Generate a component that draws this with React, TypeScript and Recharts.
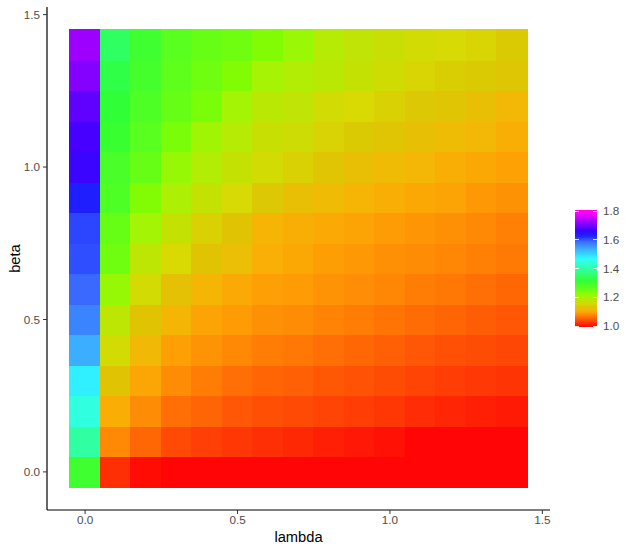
import React from "react";
import {
  ScatterChart,
  Scatter,
  XAxis,
  YAxis,
  ReferenceArea,
  Label,
} from "recharts";

// grid of lambda x beta, each cell is a tile
const lambdas = [0, 0.1, 0.2, 0.3, 0.4, 0.5, 0.6, 0.7, 0.8, 0.9, 1.0, 1.1, 1.2, 1.3, 1.4];
const betas = [0, 0.1, 0.2, 0.3, 0.4, 0.5, 0.6, 0.7, 0.8, 0.9, 1.0, 1.1, 1.2, 1.3, 1.4];

// one row per beta (bottom row first), one value per lambda
const valueRows = [
  [1.300, 1.026, 1.005, 1.000, 1.000, 1.000, 1.000, 1.000, 1.000, 1.000, 1.000, 1.000, 1.000, 1.000, 1.000],
  [1.397, 1.082, 1.061, 1.043, 1.036, 1.031, 1.026, 1.022, 1.016, 1.012, 1.008, 1.000, 1.000, 1.000, 1.000],
  [1.444, 1.107, 1.084, 1.066, 1.059, 1.051, 1.046, 1.043, 1.039, 1.035, 1.031, 1.024, 1.020, 1.016, 1.013],
  [1.479, 1.136, 1.102, 1.084, 1.074, 1.066, 1.059, 1.056, 1.052, 1.048, 1.044, 1.039, 1.035, 1.032, 1.029],
  [1.532, 1.162, 1.119, 1.097, 1.089, 1.082, 1.075, 1.071, 1.066, 1.061, 1.056, 1.051, 1.047, 1.044, 1.041],
  [1.565, 1.184, 1.136, 1.114, 1.100, 1.094, 1.087, 1.084, 1.079, 1.074, 1.069, 1.064, 1.059, 1.055, 1.051],
  [1.586, 1.218, 1.162, 1.131, 1.114, 1.105, 1.097, 1.094, 1.089, 1.085, 1.081, 1.075, 1.071, 1.066, 1.061],
  [1.600, 1.249, 1.184, 1.156, 1.136, 1.126, 1.109, 1.103, 1.096, 1.092, 1.087, 1.084, 1.081, 1.077, 1.072],
  [1.604, 1.258, 1.209, 1.176, 1.150, 1.136, 1.113, 1.108, 1.104, 1.100, 1.095, 1.090, 1.087, 1.082, 1.077],
  [1.623, 1.283, 1.233, 1.200, 1.176, 1.158, 1.141, 1.127, 1.121, 1.113, 1.108, 1.103, 1.100, 1.093, 1.088],
  [1.657, 1.288, 1.258, 1.218, 1.196, 1.176, 1.162, 1.150, 1.137, 1.127, 1.121, 1.116, 1.108, 1.103, 1.098],
  [1.667, 1.306, 1.272, 1.239, 1.211, 1.192, 1.172, 1.167, 1.151, 1.144, 1.137, 1.129, 1.122, 1.117, 1.108],
  [1.682, 1.317, 1.283, 1.258, 1.239, 1.209, 1.188, 1.181, 1.163, 1.156, 1.150, 1.142, 1.137, 1.127, 1.117],
  [1.704, 1.329, 1.294, 1.265, 1.249, 1.233, 1.206, 1.196, 1.187, 1.176, 1.165, 1.152, 1.148, 1.144, 1.138],
  [1.720, 1.348, 1.300, 1.272, 1.258, 1.249, 1.233, 1.216, 1.192, 1.181, 1.171, 1.162, 1.158, 1.153, 1.144],
];

const xTicks = [0, 0.5, 1, 1.5];
const yTicks = [0, 0.5, 1, 1.5];
const legendBreaks = [1.0, 1.2, 1.4, 1.6, 1.8];
const fillMin = 1.0;
const fillMax = 1.8;

const cells = betas.flatMap((beta, i) =>
  lambdas.map((lambda, j) => ({ lambda, beta, value: valueRows[i][j] }))
);

function hsvToHex(h: number, s: number, v: number) {
  const c = v * s;
  const hp = (h % 360) / 60;
  const x = c * (1 - Math.abs((hp % 2) - 1));
  let r = 0, g = 0, b = 0;
  if (hp < 1) [r, g, b] = [c, x, 0];
  else if (hp < 2) [r, g, b] = [x, c, 0];
  else if (hp < 3) [r, g, b] = [0, c, x];
  else if (hp < 4) [r, g, b] = [0, x, c];
  else if (hp < 5) [r, g, b] = [x, 0, c];
  else [r, g, b] = [c, 0, x];
  const m = v - c;
  const hex = (n: number) =>
    Math.round((n + m) * 255).toString(16).padStart(2, "0");
  return "#" + hex(r) + hex(g) + hex(b);
}

// rainbow fill, red at 1.0 round to magenta at 1.8
function fillFor(value: number) {
  const t = Math.min(Math.max((value - fillMin) / (fillMax - fillMin), 0), 1);
  const h = t * 308;
  let s = 1;
  if (h < 90) s = 0.98;
  else if (h < 115) s = 0.98 - ((h - 90) / 25) * 0.17;
  else if (h < 200) s = 0.81;
  else if (h < 225) s = 0.77;
  else if (h < 255) s = 0.77 + ((h - 225) / 30) * 0.23;
  const sd = h < 58 ? 12 : 20;
  const v = 1 - 0.15 * Math.exp(-(((h - 58) / sd) ** 2));
  return hsvToHex(h, s, v);
}

const fmt = (v: number) => v.toFixed(1);

const BetaTitle = (props: any) => {
  const vb = props.viewBox;
  const x = vb.x + 5;
  const y = vb.y + vb.height / 2;
  return (
    <text
      x={x}
      y={y}
      transform={`rotate(-90, ${x}, ${y})`}
      textAnchor="middle"
      dominantBaseline="central"
      fontSize={14.7}
      fill="#000"
    >
      beta
    </text>
  );
};

const BAR_TOP = 210;
const BAR_H = 117;

function ColourBar() {
  const stops = [];
  for (let k = 0; k <= 40; k++) {
    const v = fillMin + ((fillMax - fillMin) * k) / 40;
    stops.push(`${fillFor(v)} ${(k / 40) * 100}%`);
  }
  const yOf = (v: number) =>
    BAR_TOP + 1 + ((fillMax - v) / (fillMax - fillMin)) * (BAR_H - 2);
  return (
    <>
      <div
        style={{
          position: "absolute",
          left: 575,
          top: BAR_TOP,
          width: 22,
          height: BAR_H,
          background: `linear-gradient(to top, ${stops.join(", ")})`,
        }}
      />
      {legendBreaks.map((b) => (
        <React.Fragment key={b}>
          <div
            style={{
              position: "absolute",
              left: 575,
              top: yOf(b) - 0.5,
              width: 4,
              height: 1,
              background: "rgba(255,255,255,0.85)",
            }}
          />
          <div
            style={{
              position: "absolute",
              left: 593,
              top: yOf(b) - 0.5,
              width: 4,
              height: 1,
              background: "rgba(255,255,255,0.85)",
            }}
          />
          <span
            style={{
              position: "absolute",
              left: 603,
              top: yOf(b) - 7,
              fontSize: 11.7,
              lineHeight: "14px",
              color: "#4d4d4d",
            }}
          >
            {fmt(b)}
          </span>
        </React.Fragment>
      ))}
    </>
  );
}

export default function App() {
  return (
    <div
      style={{
        position: "absolute",
        left: 0,
        top: 0,
        width: 635,
        height: 552,
        background: "#fff",
        fontFamily: "'Liberation Sans', Arial, Helvetica, sans-serif",
      }}
    >
      <ScatterChart
        width={635}
        height={552}
        margin={{ top: 7, right: 85, left: 10, bottom: 10 }}
      >
        <XAxis
          type="number"
          dataKey="lambda"
          domain={[-0.125, 1.525]}
          ticks={xTicks}
          tickFormatter={fmt}
          allowDataOverflow
          height={32}
          axisLine={{ stroke: "#000", strokeWidth: 1.2 }}
          tickLine={{ stroke: "#333" }}
          tickSize={4}
          tickMargin={2}
          tick={{ fill: "#4d4d4d", stroke: "none", fontSize: 11.7 }}
        >
          <Label value="lambda" position="insideBottom" offset={0} fontSize={14.7} fill="#000" />
        </XAxis>
        <YAxis
          type="number"
          dataKey="beta"
          domain={[-0.125, 1.525]}
          ticks={yTicks}
          tickFormatter={fmt}
          allowDataOverflow
          width={37}
          axisLine={{ stroke: "#000", strokeWidth: 1.2 }}
          tickLine={{ stroke: "#333" }}
          tickSize={4}
          tickMargin={3}
          tick={{ fill: "#4d4d4d", stroke: "none", fontSize: 11.7 }}
        >
          <Label content={<BetaTitle />} />
        </YAxis>
        {cells.map((c) => {
          const col = fillFor(c.value);
          return (
            <ReferenceArea
              key={`${c.lambda}-${c.beta}`}
              x1={c.lambda - 0.05}
              x2={c.lambda + 0.05}
              y1={c.beta - 0.05}
              y2={c.beta + 0.05}
              fill={col}
              fillOpacity={1}
              stroke={col}
              strokeOpacity={1}
              strokeWidth={1}
              shapeRendering="crispEdges"
              ifOverflow="visible"
            />
          );
        })}
        <Scatter data={cells} shape={() => <g />} isAnimationActive={false} />
      </ScatterChart>
      <ColourBar />
    </div>
  );
}
